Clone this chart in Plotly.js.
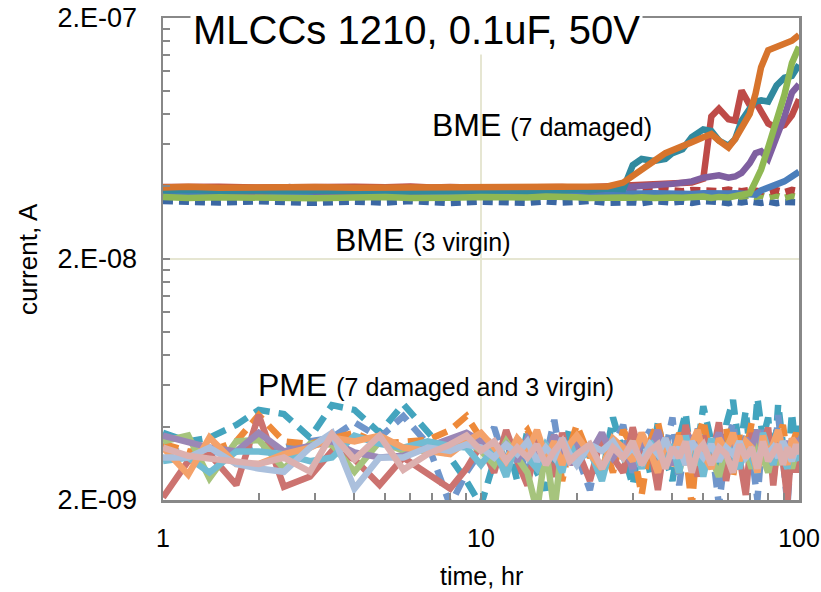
<!DOCTYPE html>
<html><head><meta charset="utf-8">
<script src="https://cdn.plot.ly/plotly-3.0.1.min.js"></script>
<style>html,body{margin:0;padding:0;background:#fff}#chart{width:821px;height:592px}</style>
</head><body><div id="chart"></div>
<script>
// time axis (hours)
const tBME = [1,1.2,1.5,2,2.5,3,4,5,6,7,8,10,12,14,16,18,20,22,25,28,30,32,35,38,40,43,46,50,53,56,60,63,66,70,73,76,80,85,90,95,100];
const tPME = [1,1.2,1.4,1.7,2,2.4,2.9,3.4,4,4.8,5.7,6.8,8,9,10,11,12,13,14,15,16,17,18,19,20,22,24,26,28,30,32,34,36,38,40,42,44,46,48,50,53,56,59,62,65,68,71,74,77,80,83,86,89,92,95,98,100];

// currents in nA (axis labelled in A)
const bmeTeal   = [38.5,38.8,38.4,38.6,38.2,38.5,38.3,38.6,38.1,38.4,38.5,38.2,38.6,38.3,38.7,38.4,38.9,38.6,39.2,39,49,52,51,52,55,57,64,69,68,62,59,63,75,84,90,91,90,105,113,115,128];
const bmeOrange = [39.6,39.9,39.5,39.7,39.4,39.8,39.5,39.6,39.3,39.7,39.5,39.4,39.8,39.6,39.9,39.7,40.1,40.3,40,41.5,44,47,51,55,56.5,58,61,64,66,62,58,63,70,80,97,125,147,152,158,161,170];
const bmeRed    = [39.8,40.1,39.9,39.6,39.8,39.5,39.9,39.7,40,39.6,39.8,39.5,39.7,39.4,39.6,39.8,39.5,39.7,39.9,40,40.2,40.1,40.4,40.6,40.8,41,41.5,43,78,84,76,75,100,87,90,82,73,70,72,79,92];
const bmePurple = [38.5,39,38.3,37.8,39.8,38.2,38,39.5,38,38.4,39.6,38.1,39.7,38.3,38.8,38.4,39.3,38.7,39.2,39.6,39.4,39.8,40,40.5,41,41.5,42,43.5,44,44.5,43.5,44,45.5,50,55,56,52,64,78,98,106];
const bmeGreen  = [36.2,35.8,36.1,35.9,36.3,35.7,36,36.2,35.8,36.1,35.9,36.2,35.8,36,36.3,35.9,36.1,35.8,36.2,36,35.9,36.1,35.8,36.2,36,35.9,36.1,36.3,35.8,36.2,36,36.4,36.5,37.5,42,47,58,75,96,130,152];
const bmeBlue   = [37.5,37.2,37.6,37.3,37.4,37.1,37.5,37.3,37.2,37.6,37.4,37.1,37.5,37.3,37.6,37.2,37.4,37.5,37.3,37.6,37.2,37.4,37.5,37.3,37.6,37.4,37.2,37.5,37.3,37.6,37.4,37.5,37.3,37.6,37,38.5,39.5,40.5,42,44,46];
const bmeRedV   = [38.6,38.3,38.8,38.5,38.2,38.7,38.4,38.6,38.3,38.8,38.5,38.2,38.7,38.4,38.6,38.3,38.8,38.5,38.2,38.7,38.4,38.6,38.3,38.8,38.5,38.2,38.7,38.4,38.6,38.3,38.8,38.5,38.2,38.7,38.4,38.6,37.8,38.6,37.9,38.7,38.2];
const bmeGreenV = [36.5,36.2,36.6,36.3,36.1,36.5,36.4,36.2,36.6,36.3,36.5,36.1,36.4,36.6,36.2,36.5,36.3,36.1,36.6,36.4,36.2,36.5,36.3,36.6,36.1,36.4,36.5,36.2,36.6,36.3,36.5,36.1,36.4,36.6,36.2,36.8,36.0,36.7,35.9,36.6,36.1];
const bmeBlueV  = [34.8,34.5,34.3,34.7,34.4,34.2,34.6,34.3,34.8,34.5,34.1,34.6,34.4,34.2,34.7,34.3,34.5,34.8,34.2,34.6,34.4,34.1,34.7,34.5,34.3,34.6,34.2,34.8,34.4,34.5,34.1,34.6,34.3,34.7,34.4,34.2,34.6,34.1,34.5,34.3,34.4];

const pmeTealD   = [3.8,3.5,3.63,4.1,4.73,4.55,3.63,4.95,4.73,3.8,5.0,3.87,3.0,2.4, 1.9,2.9,3.6,2.4,3.9,2.6,2.2,3.3,3.0,4.0,2.8,3.4,2.5,4.4,3.1,2.3,3.8,2.6,4.2,3.0,2.4,3.6,4.6,2.8,3.3,4.9,3.5,2.6,4.1,5.2,3.2,4.7,2.7,5.3,3.6,4.4,2.5,5.0,3.4,2.6,4.6,3.1,4.3];
const pmeBlueD   = [3.3,3.1,3.15,3.18,3.35,3.3,3.5,3.63,4.2,3.63,4.46,3.42,1.9,2.6, 3.2,4.0,2.8,3.4,2.5,3.7,3.0,4.3,2.7,3.5,3.1,2.2,3.8,3.3,4.1,2.6,3.4,3.9,2.9,3.2,4.4,2.3,3.6,3.0,4.0,2.7,3.5,1.9,3.3,4.2,2.8,3.7,3.1,2.0,3.9,3.4,2.6,4.5,3.0,1.9,3.6,3.2,3.8];
const pmeOrangeD = [3.42,3.18,3.18,3.5,4.5,3.5,3.42,3.63,3.8,3.42,3.5,3.55,3.9,4.46, 3.6,3.1,2.7,3.5,3.9,3.2,2.9,3.7,2.4,3.3,4.1,3.0,3.6,2.6,3.9,3.3,2.1,3.5,4.2,3.0,2.7,3.8,3.2,1.9,3.6,4.3,2.9,3.4,4.0,2.5,3.7,3.1,4.2,2.8,3.5,3.9,2.4,3.6,4.1,3.0,3.4,3.8,3.3];
const pmeRed     = [2.05,2.9,3.1,2.31,4.5,2.27,2.5,3.2,2.95,2.31,3.0,2.55,2.23,2.7, 3.4,2.6,3.9,2.9,2.3,3.5,3.1,2.5,3.8,2.8,3.3,2.4,3.7,3.0,2.6,4.0,2.9,3.4,2.2,3.6,3.1,2.7,4.1,3.2,2.5,3.7,2.9,4.2,2.4,3.5,3.0,2.1,3.8,2.7,3.3,4.0,2.3,3.6,2.9,2.0,3.4,2.6,3.3];
const pmeGreen   = [3.5,3.7,2.46,3.5,3.55,2.7,3.42,3.4,2.62,3.5,3.2,3.2,3.3,3.5, 3.2,2.8,3.5,3.0,2.6,1.8,3.3,1.8,3.4,2.9,3.6,3.1,2.7,3.4,3.0,3.5,2.8,3.2,3.6,2.9,3.3,2.6,3.5,3.1,2.8,3.4,3.0,2.5,3.3,3.7,2.9,3.2,2.7,3.5,3.0,2.6,3.3,2.8,3.4,3.1,2.7,3.2,3.0];
const pmePurple  = [3.7,3.45,3.3,3.18,3.8,3.18,3.35,3.5,3.15,3.0,3.05,3.3,3.6,3.8, 3.5,3.1,3.4,2.9,3.6,3.2,3.0,3.7,3.3,2.8,3.5,3.1,3.8,3.0,3.4,2.7,3.6,3.2,3.9,3.1,2.8,3.5,3.3,3.7,2.9,3.4,3.2,3.8,3.0,3.5,2.7,3.6,3.3,3.9,3.1,3.4,2.8,3.7,3.2,3.5,3.0,3.6,3.3];
const pmeTeal    = [2.9,3.0,2.6,3.18,3.18,3.1,2.9,3.0,3.7,3.42,3.3,3.5,3.35,3.3, 2.8,3.3,2.5,3.6,3.0,2.7,3.4,3.1,2.6,3.5,2.9,3.2,2.4,3.6,3.0,3.3,2.7,3.5,3.1,2.8,3.4,2.6,3.7,3.0,3.3,2.5,3.6,2.9,3.4,3.1,2.7,3.5,3.0,2.6,3.8,3.2,2.8,3.4,3.0,2.7,3.5,3.2,2.9];
const pmeOrange  = [3.3,2.55,3.63,2.82,2.82,3.1,3.3,3.63,3.5,3.7,3.3,3.2,3.1,3.5, 3.8,3.3,2.9,3.6,3.2,3.9,3.0,3.5,2.8,3.4,3.7,3.1,2.7,3.6,3.3,2.9,3.8,3.2,2.6,3.5,3.0,3.7,2.8,3.4,3.9,3.1,2.7,3.6,3.2,3.8,2.9,3.5,3.3,2.6,3.7,3.0,3.5,3.9,3.2,2.8,3.6,3.4,3.1];
const pmeSteel   = [3.0,3.0,3.3,2.82,2.7,2.62,3.3,3.8,2.23,3.0,3.0,3.3,3.2,3.4, 3.3,3.0,3.4,3.1,3.5,2.9,3.3,3.0,3.6,3.1,2.8,3.4,3.2,3.5,3.0,3.3,2.9,3.4,3.1,3.6,3.0,3.3,2.8,3.5,3.2,3.0,3.4,2.9,3.3,3.1,3.5,3.0,3.2,2.9,3.4,3.1,3.3,3.0,3.5,3.2,2.9,3.3,3.1];
const pmePink    = [3.3,3.05,2.97,2.9,2.82,3.0,2.62,3.75,2.95,3.7,2.67,3.1,3.4,3.7, 3.2,3.5,2.9,3.3,3.0,3.4,2.8,3.2,3.5,2.9,3.1,3.4,2.7,3.3,3.0,3.5,2.8,3.2,3.4,2.7,3.3,3.0,3.5,2.6,3.2,3.4,2.8,3.3,3.1,2.6,3.4,3.0,3.3,2.7,3.5,2.9,3.2,3.4,2.8,3.3,3.0,3.4,3.1];

const yTickVals = [2, 20, 200];
const yTickText = ['2.E-09', '2.E-08', '2.E-07'];
const xTickVals = [1, 10, 100];
const xTickText = ['1', '10', '100'];
const xMinor = [2,3,4,5,6,7,8,9,20,30,40,50,60,70,80,90];
const yMinor = [4,6,8,10,12,14,16,18,40,60,80,100,120,140,160,180];

const FONT = 'Liberation Sans, Arial, sans-serif';
const W = 6.5;
function line(x, y, color, dash) {
  return {x: x, y: y, type: 'scatter', mode: 'lines',
    line: {color: color, width: W, dash: dash || 'solid', shape: 'linear'}, hoverinfo: 'skip'};
}
const traces = [
  line(tBME, bmeBlueV, '#3b67a3', '10px,6px'),
  line(tBME, bmeGreenV, '#8db24f', '10px,6px'),
  line(tBME, bmeRedV, '#b8403d', '10px,6px'),
  line(tBME, bmeBlue, '#4a7ebb'),
  line(tBME, bmeRed, '#be4b48'),
  line(tBME, bmePurple, '#7f5fa0'),
  line(tBME, bmeTeal, '#31899e'),
  line(tBME, bmeOrange, '#d7742c'),
  line(tBME, bmeGreen, '#8fb853'),
  line(tPME, pmeTealD, '#43a4be', '16px,9px'),
  line(tPME, pmeBlueD, '#7096cb', '16px,9px'),
  line(tPME, pmeOrangeD, '#ee8a3a', '16px,9px'),
  line(tPME, pmeRed, '#cc7370'),
  line(tPME, pmeGreen, '#a6c47d'),
  line(tPME, pmePurple, '#9b87b6'),
  line(tPME, pmeTeal, '#71bcd3'),
  line(tPME, pmeOrange, '#f4a26a'),
  line(tPME, pmeSteel, '#abc0dd'),
  line(tPME, pmePink, '#dcb0af')
];

const axisCommon = {
  type: 'log', showline: true, linecolor: '#888888', linewidth: 2.5, mirror: true,
  ticks: 'inside', ticklen: 7, tickwidth: 2, tickcolor: '#888888',
  showgrid: true, gridcolor: '#e6e6d2', gridwidth: 1.5, zeroline: false,
  tickmode: 'array', tickfont: {family: FONT, size: 25, color: '#000'}
};

const layout = {
  width: 821, height: 592,
  margin: {l: 163, r: 22, t: 18, b: 92},
  paper_bgcolor: '#ffffff', plot_bgcolor: '#ffffff',
  showlegend: false, hovermode: false,
  font: {family: FONT, color: '#000'},
  xaxis: Object.assign({}, axisCommon, {
    range: [0, 2], tickvals: xTickVals, ticktext: xTickText, ticklabelstandoff: 14,
    minor: {tickvals: xMinor, ticks: 'inside', ticklen: 7, tickwidth: 2, tickcolor: '#888888', showgrid: false}
  }),
  yaxis: Object.assign({}, axisCommon, {
    range: [Math.log10(2), Math.log10(200)], tickvals: yTickVals, ticktext: yTickText, ticklabelstandoff: 18,
    tickfont: {family: FONT, size: 27, color: '#000'},
    minor: {tickvals: yMinor, ticks: 'inside', ticklen: 7, tickwidth: 2, tickcolor: '#888888', showgrid: false}
  }),
  annotations: [
    {text: 'MLCCs 1210, 0.1uF, 50V', xref: 'paper', yref: 'paper', x: 0.398, y: 1, xanchor: 'center', yanchor: 'middle',
     yshift: -12, showarrow: false, bgcolor: '#ffffff', borderpad: 2, font: {family: FONT, size: 40, color: '#000'}},
    {text: 'BME <span style="font-size:25px">(7 damaged)</span>', xref: 'paper', yref: 'paper', x: 0.42, y: 0.778,
     xanchor: 'left', yanchor: 'middle', showarrow: false, font: {family: FONT, size: 32, color: '#000'}},
    {text: 'BME <span style="font-size:25px">(3 virgin)</span>', xref: 'paper', yref: 'paper', x: 0.267, y: 0.539,
     xanchor: 'left', yanchor: 'middle', showarrow: false, font: {family: FONT, size: 32, color: '#000'}},
    {text: 'PME <span style="font-size:25px">(7 damaged and 3 virgin)</span>', xref: 'paper', yref: 'paper', x: 0.146, y: 0.239,
     xanchor: 'left', yanchor: 'middle', showarrow: false, font: {family: FONT, size: 32, color: '#000'}},
    {text: 'time, hr', xref: 'paper', yref: 'paper', x: 0.5, y: 0, yanchor: 'top', yshift: -60,
     showarrow: false, font: {family: FONT, size: 25, color: '#000'}},
    {text: 'current, A', xref: 'paper', yref: 'paper', x: 0, y: 0.5, xanchor: 'center', xshift: -135, textangle: -90,
     showarrow: false, font: {family: FONT, size: 26, color: '#000'}}
  ]
};

Plotly.newPlot('chart', traces, layout, {staticPlot: true, displayModeBar: false});
</script>
</body></html>
